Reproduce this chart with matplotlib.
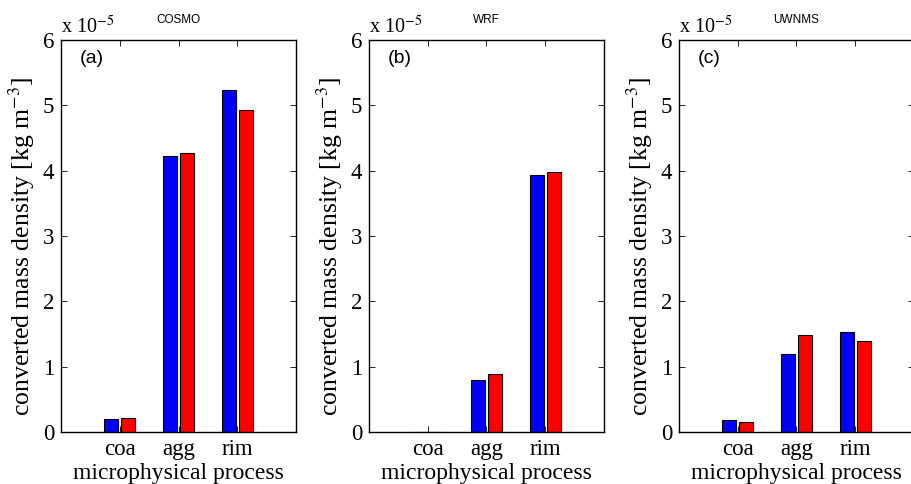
import matplotlib
matplotlib.use("Agg")
import matplotlib.pyplot as plt
import numpy as np

plt.rcParams['font.family'] = 'Liberation Serif'
plt.rcParams['mathtext.fontset'] = 'stix'

processes = ['coa', 'agg', 'rim']
models = ['COSMO', 'WRF', 'UWNMS']
panel_tags = ['(a)', '(b)', '(c)']
# values in units of 1e-5 kg m^-3
blue_vals = [
    [0.20, 4.22, 5.24],
    [0.005, 0.79, 3.93],
    [0.19, 1.19, 1.53],
]
red_vals = [
    [0.21, 4.27, 4.93],
    [0.005, 0.89, 3.98],
    [0.15, 1.48, 1.40],
]

fig = plt.figure(figsize=(9.12, 4.84), dpi=100)
lefts = [61 / 912, 369 / 912, 679 / 912]
w = 235 / 912
b = 1 - 432 / 484
h = 392 / 484

x = np.arange(1, len(processes) + 1)
bw = 0.24
for i in range(3):
    ax = fig.add_axes([lefts[i], b, w, h])
    ax.bar(x - 0.145, blue_vals[i], bw, color='#0000ff', edgecolor='black', linewidth=0.8)
    ax.bar(x + 0.145, red_vals[i], bw, color='#ff0000', edgecolor='black', linewidth=0.8)
    ax.set_xlim(0, 4)
    ax.set_ylim(0, 6)
    ax.set_xticks(x)
    ax.set_xticklabels(processes)
    ax.set_yticks(range(7))
    ax.tick_params(direction='in', top=True, right=True, length=4, width=0.6,
                   labelsize=16.5)
    ax.tick_params(axis='x', pad=5)
    ax.tick_params(axis='y', pad=5)
    for s in ax.spines.values():
        s.set_linewidth(1.0)
    ax.set_ylabel(r'converted mass density [kg m$^{-3}$]', fontsize=18.5)
    ax.yaxis.set_label_coords(-0.104, 0.474)
    ax.set_xlabel('microphysical process', fontsize=17, labelpad=2)
    ax.text(0.0, 1.0165, r'x 10$^{-5}$', transform=ax.transAxes, fontsize=14.5,
            ha='left', va='baseline')
    ax.text(0.5, 1.035, models[i], transform=ax.transAxes, fontsize=8.5,
            family='Liberation Sans', ha='center', va='bottom')
    ax.text(0.08, 0.975, panel_tags[i], transform=ax.transAxes, fontsize=14,
            family='Liberation Sans', ha='left', va='top')

fig.savefig('out.png', dpi=100)
